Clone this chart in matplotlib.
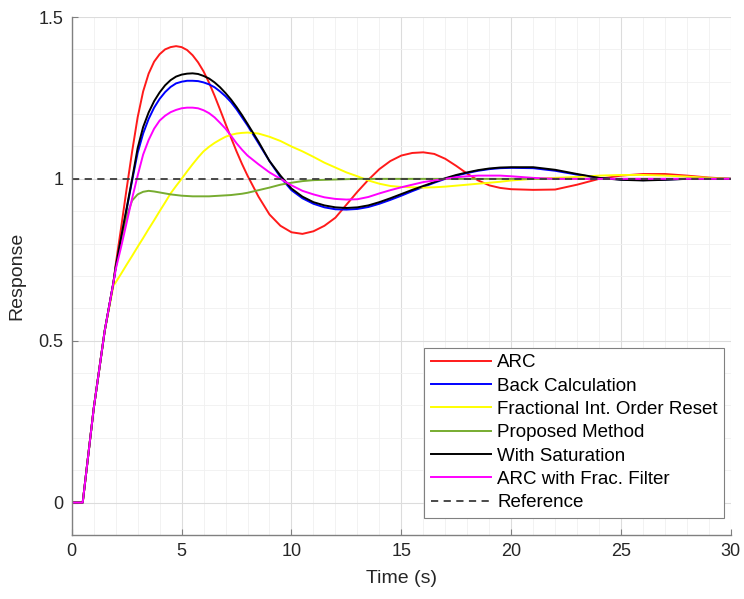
import matplotlib
matplotlib.use("Agg")
import matplotlib.pyplot as plt
from matplotlib.ticker import MultipleLocator

plt.rcParams['font.family'] = ['Liberation Sans', 'DejaVu Sans']

t = [0, 0.5, 1.0, 1.5, 1.9,
     2.0, 2.25, 2.5, 2.75, 3.0, 3.25, 3.5, 3.75, 4.0, 4.25, 4.5, 4.75, 5.0, 5.25, 5.5,
     5.75, 6.0, 6.25, 6.5, 6.75, 7.0, 7.25, 7.5, 7.75, 8.0,
     8.5, 9.0, 9.5, 10.0, 10.5, 11.0, 11.5, 12.0, 12.5, 13.0, 13.5, 14.0, 14.5,
     15.0, 15.5, 16.0, 16.5, 17.0, 17.5, 18.0, 18.5, 19.0, 19.5, 20.0,
     21, 22, 23, 24, 25, 26, 27, 28, 29, 30]

arc = [0, 0, 0.29, 0.53, 0.68,
       0.735, 0.85, 0.97, 1.085, 1.19, 1.27, 1.325, 1.362, 1.385, 1.40, 1.407, 1.41, 1.407,
       1.398, 1.382, 1.36, 1.332, 1.297, 1.257, 1.214, 1.17, 1.127, 1.085, 1.046, 1.01,
       0.945, 0.89, 0.855, 0.835, 0.83, 0.838, 0.855, 0.88, 0.92, 0.96, 0.997, 1.03, 1.055,
       1.072, 1.08, 1.082, 1.077, 1.062, 1.04, 1.016, 0.995, 0.98, 0.972, 0.968,
       0.966, 0.967, 0.982, 1.0, 1.01, 1.015, 1.015, 1.01, 1.004, 1.0]

back_calc = [0, 0, 0.29, 0.53, 0.68,
             0.725, 0.815, 0.905, 0.995, 1.08, 1.14, 1.185, 1.22, 1.247, 1.268, 1.284,
             1.295, 1.30, 1.303, 1.303, 1.302, 1.298, 1.292, 1.283, 1.27, 1.255, 1.237,
             1.215, 1.19, 1.165,
             1.11, 1.055, 1.005, 0.965, 0.94, 0.923, 0.912, 0.906, 0.905, 0.907, 0.913,
             0.923, 0.935, 0.948, 0.962, 0.975, 0.988, 1.0, 1.01, 1.018, 1.025, 1.03, 1.033,
             1.034,
             1.033, 1.025, 1.013, 1.003, 0.998, 0.996, 0.998, 1.0, 1.0, 1.0]

frac_reset = [0, 0, 0.29, 0.53, 0.67,
              0.68, 0.707, 0.735, 0.762, 0.79, 0.817, 0.845, 0.872, 0.90, 0.927, 0.955,
              0.978, 1.0, 1.023, 1.045, 1.066, 1.085, 1.099, 1.111, 1.121, 1.13, 1.136,
              1.14, 1.142, 1.143,
              1.14, 1.13, 1.117, 1.10, 1.085, 1.068, 1.05, 1.035, 1.02, 1.008, 0.995, 0.985,
              0.978, 0.975, 0.974, 0.973, 0.974, 0.976, 0.979, 0.982, 0.985, 0.988, 0.991,
              0.995,
              1.0, 1.003, 1.006, 1.01, 1.012, 1.012, 1.01, 1.007, 1.003, 1.0]

proposed = [0, 0, 0.29, 0.53, 0.68,
            0.73, 0.81, 0.885, 0.933, 0.952, 0.96, 0.963, 0.961, 0.958, 0.955, 0.952, 0.95,
            0.948, 0.947, 0.946, 0.946, 0.946, 0.946, 0.947, 0.948, 0.949, 0.95, 0.952,
            0.954, 0.957,
            0.965, 0.973, 0.982, 0.988, 0.993, 0.996, 0.997, 0.998, 0.999, 1.0, 1.0, 1.0,
            1.0, 1.0, 1.0, 1.0, 1.0, 1.0, 1.0, 1.0, 1.0, 1.0, 1.0, 1.0,
            1.0, 1.0, 1.0, 1.0, 1.0, 1.0, 1.0, 1.0, 1.0, 1.0]

with_sat = [0, 0, 0.29, 0.53, 0.68,
            0.727, 0.82, 0.91, 1.0, 1.095, 1.16, 1.205, 1.24, 1.267, 1.289, 1.305, 1.316,
            1.322, 1.325, 1.326, 1.324, 1.318, 1.31, 1.298, 1.283, 1.265, 1.245, 1.222,
            1.197, 1.17,
            1.115, 1.055, 1.01, 0.97, 0.945, 0.928, 0.918, 0.912, 0.91, 0.912, 0.918, 0.928,
            0.94, 0.953, 0.966, 0.978, 0.99, 1.002, 1.012, 1.02, 1.027, 1.032, 1.035, 1.036,
            1.036, 1.028, 1.015, 1.003, 0.997, 0.995, 0.997, 1.0, 1.0, 1.0]

arc_frac = [0, 0, 0.29, 0.53, 0.68,
            0.72, 0.79, 0.865, 0.94, 1.01, 1.075, 1.12, 1.155, 1.18, 1.195, 1.206, 1.213,
            1.218, 1.22, 1.22, 1.218, 1.212, 1.203, 1.19, 1.173, 1.155, 1.133, 1.11, 1.09,
            1.072,
            1.045, 1.02, 1.0, 0.98, 0.963, 0.952, 0.943, 0.938, 0.936, 0.937, 0.944, 0.955,
            0.965, 0.974, 0.982, 0.99, 0.995, 1.0, 1.005, 1.008, 1.01, 1.01, 1.01, 1.008,
            1.003, 1.0, 1.0, 1.0, 1.0, 1.0, 1.0, 1.0, 1.0, 1.0]

ref_t = [0, 30]
ref_y = [1, 1]

series = [
    ("ARC", arc, "#ff1a1a"),
    ("Back Calculation", back_calc, "#0000ff"),
    ("Fractional Int. Order Reset", frac_reset, "#ffff00"),
    ("Proposed Method", proposed, "#77ac30"),
    ("With Saturation", with_sat, "#000000"),
    ("ARC with Frac. Filter", arc_frac, "#ff00ff"),
]

fig = plt.figure(figsize=(7.44, 5.99), dpi=100)
ax = fig.add_axes([0.0964, 0.107, 0.886, 0.8646])

for label, vals, col in series:
    ax.plot(t, vals, color=col, lw=1.4, label=label)
ax.plot(ref_t, ref_y, color="#3c3c3c", lw=1.3, ls=(0, (4, 3)), label="Reference")

ax.set_xlim(0, 30)
ax.set_ylim(-0.1, 1.5)
ax.xaxis.set_major_locator(MultipleLocator(5))
ax.xaxis.set_minor_locator(MultipleLocator(1))
ax.yaxis.set_minor_locator(MultipleLocator(0.1))
ax.set_yticks([0, 0.5, 1, 1.5])
ax.set_yticklabels(["0", "0.5", "1", "1.5"])

ax.grid(which="major", color="#dcdcdc", lw=0.8)
ax.grid(which="minor", color="#f0f0f0", lw=0.6)
ax.set_axisbelow(True)

for s in ["top", "right"]:
    ax.spines[s].set_visible(False)
for s in ["left", "bottom"]:
    ax.spines[s].set_color("#808080")
    ax.spines[s].set_linewidth(1.0)

ax.tick_params(which="major", direction="in", length=4, color="#808080",
               labelsize=13, labelcolor="#262626", pad=6)
ax.tick_params(which="minor", length=0)

ax.set_xlabel("Time (s)", fontsize=14, color="#262626")
ax.set_ylabel("Response", fontsize=14, color="#262626")
ax.yaxis.set_label_coords(-0.07, 0.5)
ax.xaxis.set_label_coords(0.5, -0.068)

leg = ax.legend(loc="lower right", bbox_to_anchor=(0.99, 0.033), borderaxespad=0,
                fontsize=13.5, handlelength=3.2, labelspacing=0.33, handletextpad=0.35,
                fancybox=False, framealpha=1, edgecolor="#808080", borderpad=0.35)
leg.get_frame().set_linewidth(0.8)

fig.savefig("out.png", dpi=100)
